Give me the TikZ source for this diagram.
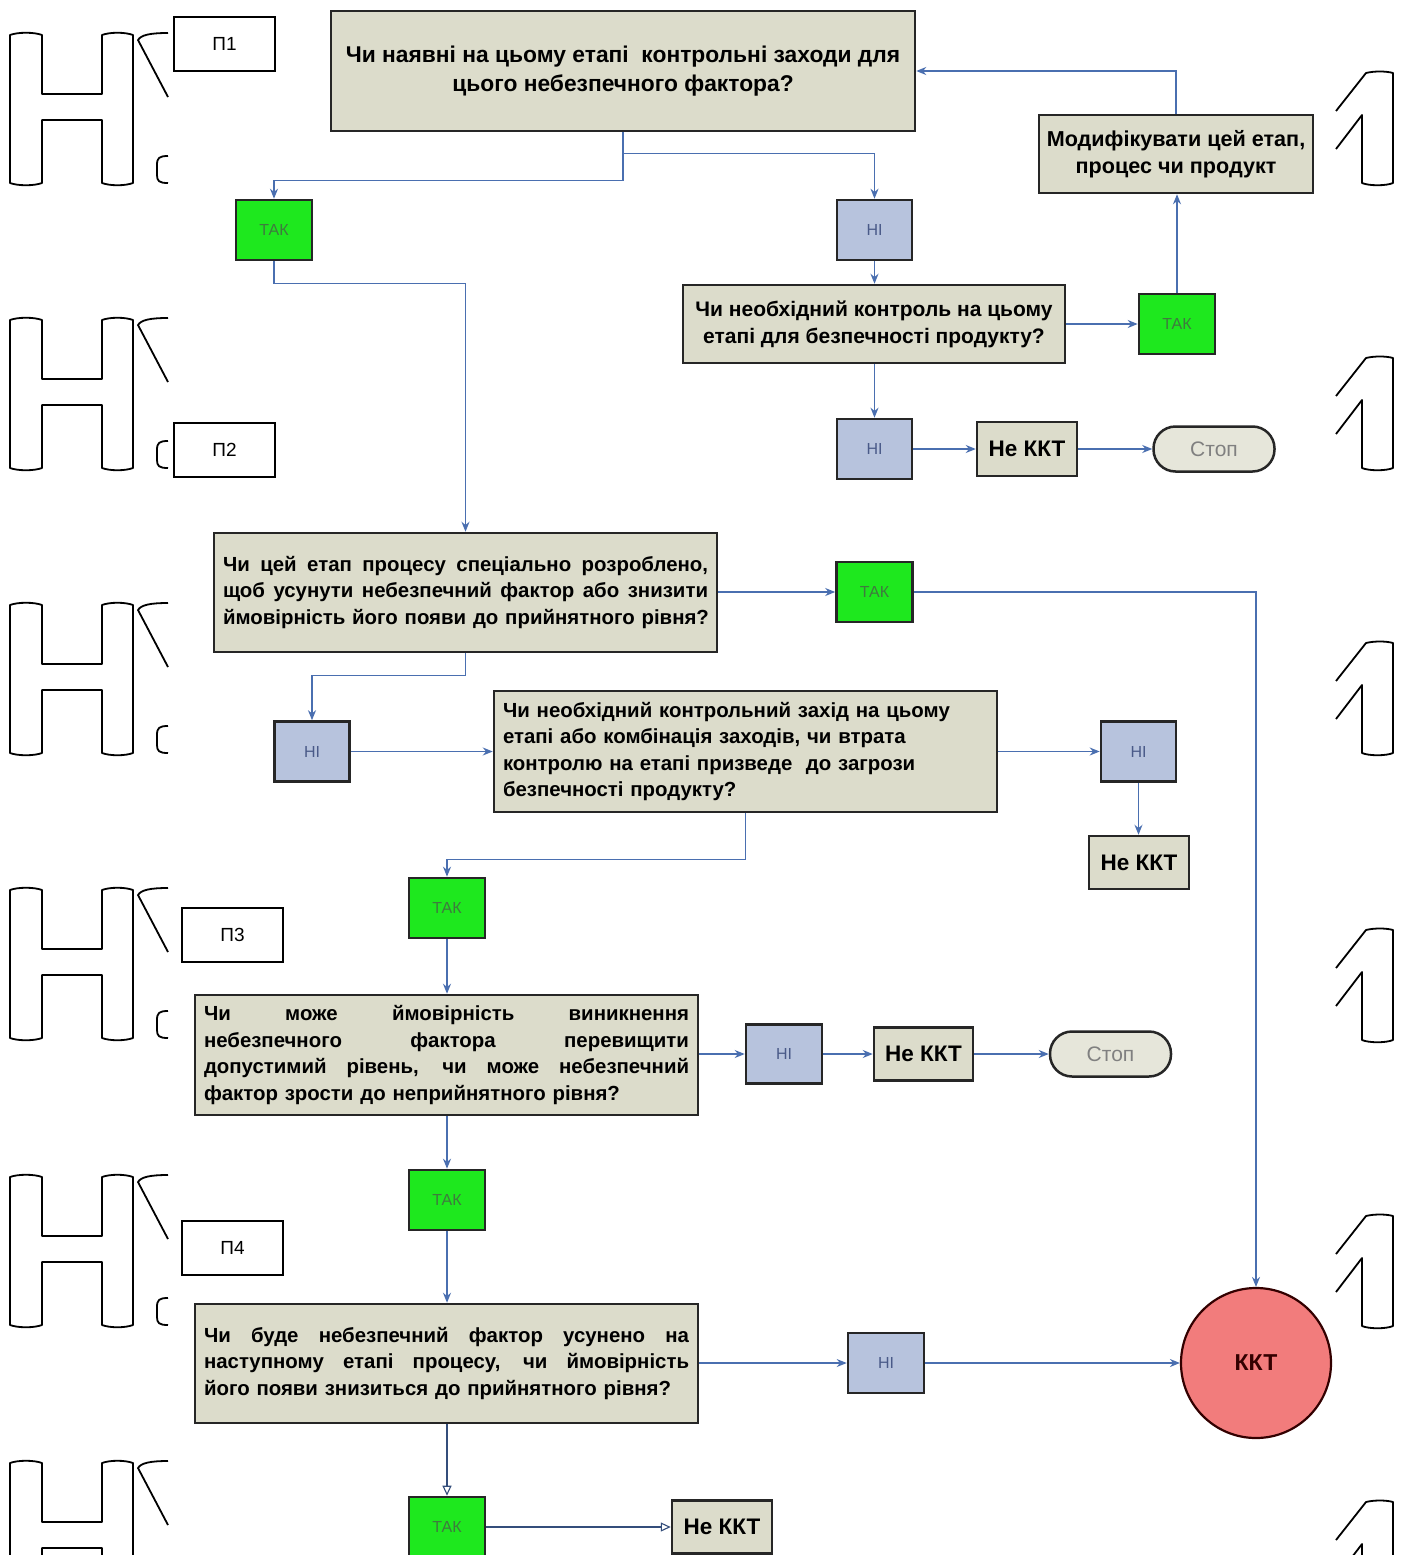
\documentclass[tikz,border=0pt]{standalone}
\usepackage{fontspec}
\setmainfont{Liberation Sans}
\usetikzlibrary{arrows.meta,calc}
\definecolor{boxfill}{HTML}{DCDCCB}
\definecolor{takfill}{HTML}{1EE81E}
\definecolor{taktext}{HTML}{3F7A3F}
\definecolor{nifill}{HTML}{B7C3DD}
\definecolor{nitext}{HTML}{4A5A88}
\definecolor{linkblue}{HTML}{4A6FB0}
\definecolor{kktfill}{HTML}{F27C7C}
\definecolor{stopfill}{HTML}{E6E6DA}
\definecolor{boxline}{HTML}{262626}

% a full-width line whose interword spaces stretch to the given width
\newcommand\justline[2][485pt]{\leavevmode\hbox to #1{\spaceskip=0.28em plus 1fil\relax #2}}

\tikzset{
  glyph/.style={draw=black, line width=1.8pt, line join=round},
  % outlined letter shape on the left margin
  hglyph/.pic={
    \draw[glyph] (0,0) -- (0,148) .. controls (8,151) and (24,151) .. (32,148)
      -- (32,85) -- (92,85) -- (92,148) .. controls (100,151) and (115,151) .. (123,148)
      -- (123,0) .. controls (115,-3) and (100,-3) .. (92,0) -- (92,59) -- (32,59)
      -- (32,0) .. controls (24,-3) and (8,-3) .. (0,0) -- cycle;
    \draw[glyph] (158,-2) .. controls (140,-2) and (131,0) .. (128,5) -- (158,62);
    \draw[glyph] (158,121) .. controls (149,121) and (147,123) .. (147,130)
      -- (147,140) .. controls (147,146) and (149,148) .. (158,148);
  },
  % outlined digit shape on the right margin
  oneglyph/.pic={
    \draw[glyph] (0,38) -- (30,0) .. controls (38,-2) and (50,-2) .. (57,0)
      -- (57,110) .. controls (50,113) and (33,113) .. (26,110) -- (26,42) -- (0,76);
  }
}

\begin{document}
\begin{tikzpicture}[x=1pt,y=-1pt,
  every node/.style={inner sep=0pt},
  qbox/.style={draw=boxline, line width=2.5pt, fill=boxfill,
    font=\fontsize{20.4}{26.5}\selectfont\bfseries},
  qwide/.style={qbox, minimum width=503pt, text width=485pt, align=left},
  takbox/.style={draw=boxline, line width=2.6pt, fill=takfill, text=taktext,
    minimum width=76pt, minimum height=60pt, font=\fontsize{16}{18}\selectfont},
  nibox/.style={draw=boxline, line width=2.6pt, fill=nifill, text=nitext,
    minimum width=75pt, minimum height=60pt, font=\fontsize{16}{18}\selectfont},
  nekkt/.style={draw=boxline, line width=2.5pt, fill=boxfill,
    minimum width=100pt, minimum height=54pt, font=\fontsize{22.5}{25}\selectfont\bfseries},
  stopbox/.style={draw=boxline, line width=2.5pt, fill=stopfill, text=black!50,
    rounded corners=22pt, minimum width=121pt, minimum height=45pt,
    font=\fontsize{21}{23}\selectfont},
  plabel/.style={draw=black, line width=2pt, fill=white, minimum width=101pt,
    minimum height=54pt, font=\fontsize{19}{22}\selectfont},
  conn/.style={draw=linkblue, line width=1.3pt,
    -{Stealth[length=10pt,width=8pt]}},
  openconn/.style={draw=linkblue!70!black, line width=1.1pt,
    -{Triangle[open,length=10pt,width=9pt]}}
]
\useasboundingbox (0,0) rectangle (1406,1555);
\clip (0,0) rectangle (1406,1555);
\fill[white] (0,0) rectangle (1406,1555);

% margin shapes
\foreach \t in {35,320,605,890,1177,1463} { \pic at (10,\t) {hglyph}; }
\foreach \t in {73,358,643,930,1216,1502} { \pic at (1336,\t) {oneglyph}; }

% section labels
\node[plabel] (p1) at (224.5,44) {П1};
\node[plabel] (p2) at (224.5,449.5) {П2};
\node[plabel] (p3) at (232.5,935) {П3};
\node[plabel] (p4) at (232.5,1247.5) {П4};

% question boxes
\node[qbox, minimum width=584pt, minimum height=120pt, align=center,
  font=\fontsize{22.8}{29}\selectfont\bfseries] (q1) at (623,71)
  {Чи наявні на цьому етапі~ контрольні заходи для\\цього небезпечного фактора?};
\node[qbox, minimum width=274pt, minimum height=78pt, align=center,
  font=\fontsize{21.6}{27}\selectfont\bfseries] (mod) at (1176,154)
  {Модифікувати цей етап,\\процес чи продукт};
\node[qbox, minimum width=382pt, minimum height=78pt, align=center,
  font=\fontsize{21}{27}\selectfont\bfseries] (q2) at (874,324)
  {Чи необхідний контроль на цьому\\етапі для безпечності продукту?};
\node[qwide, minimum height=119pt] (q3) at (465.5,592.5)
  {\justline{Чи цей етап процесу спеціально розроблено,}\\
   \justline{щоб усунути небезпечний фактор або знизити}\\
   \mbox{ймовірність його появи до прийнятного рівня?}};
\node[qwide, minimum height=121pt] (q4) at (745.5,751.5)
  {Чи необхідний контрольний захід на цьому\\
   етапі або комбінація заходів, чи втрата\\
   контролю на етапі призведе~ до загрози\\
   безпечності продукту?};
\node[qwide, minimum height=120pt] (q5) at (446.5,1055)
  {\justline{Чи може ймовірність виникнення}\\
   \justline{небезпечного фактора перевищити}\\
   \justline{допустимий рівень, чи може небезпечний}\\
   \mbox{фактор зрости до неприйнятного рівня?}};
\node[qwide, minimum height=119pt] (q6) at (446.5,1363.5)
  {\justline{Чи буде небезпечний фактор усунено на}\\
   \justline{наступному етапі процесу, чи ймовірність}\\
   \mbox{його появи знизиться до прийнятного рівня?}};

% answer boxes
\node[takbox] (tak1) at (274,230) {ТАК};
\node[nibox] (ni1) at (874.5,230) {НІ};
\node[takbox] (tak2) at (1177,324) {ТАК};
\node[nibox] (ni2) at (874.5,449) {НІ};
\node[nekkt] (nekkt1) at (1027,449) {Не ККТ};
\node[stopbox] (stop1) at (1214,449) {Стоп};
\node[takbox] (tak3) at (874.5,592) {ТАК};
\node[nibox] (ni3) at (312,751.5) {НІ};
\node[nibox] (ni4) at (1138.5,751.5) {НІ};
\node[nekkt, minimum height=53pt] (nekkt2) at (1139,862.5) {Не ККТ};
\node[takbox] (tak4) at (447,908) {ТАК};
\node[nibox, minimum width=76pt, minimum height=59pt] (ni5) at (784,1054) {НІ};
\node[nekkt, minimum width=99pt, minimum height=53pt] (nekkt3) at (923.5,1054) {Не ККТ};
\node[stopbox] (stop2) at (1110.5,1054) {Стоп};
\node[takbox] (tak5) at (447,1200) {ТАК};
\node[nibox, minimum width=76pt] (ni6) at (886,1363) {НІ};
\node[circle, draw=black!80!red, line width=2.2pt, fill=kktfill, minimum size=150pt,
  font=\fontsize{23}{25}\selectfont\bfseries, text=black!80!red] (kkt) at (1256,1363) {ККТ};
\node[takbox] (tak6) at (447,1527) {ТАК};
\node[nekkt, minimum height=53pt] (nekkt4) at (722,1527) {Не ККТ};

% connectors
\draw[conn] (q1.south) -- ++(0,48) -| (tak1.north);
\draw[conn] ($(q1.south)+(0,21)$) -| (ni1.north);
\draw[conn] (tak1.south) -- ++(0,22) -| (q3.north);
\draw[conn] (ni1.south) -- (ni1.south |- q2.north);
\draw[conn] (q2.east) -- (tak2.west);
\draw[conn] (tak2.north) -- (tak2.north |- mod.south);
\draw[conn] (mod.north) |- (q1.east);
\draw[conn] (q2.south -| ni2.north) -- (ni2.north);
\draw[conn] (ni2.east) -- (nekkt1.west);
\draw[conn] (nekkt1.east) -- (stop1.west);
\draw[conn] (q3.east |- tak3.west) -- (tak3.west);
\draw[conn] (tak3.east) -| (kkt.north);
\draw[conn] (q3.south) -- ++(0,22) -| (ni3.north);
\draw[conn] (ni3.east) -- (ni3.east -| q4.west);
\draw[conn] (q4.east |- ni4.west) -- (ni4.west);
\draw[conn] (ni4.south) -- (ni4.south |- nekkt2.north);
\draw[conn] (q4.south) -- ++(0,46) -| (tak4.north);
\draw[conn] (tak4.south) -- (tak4.south |- q5.north);
\draw[conn] (q5.east |- ni5.west) -- (ni5.west);
\draw[conn] (ni5.east) -- (nekkt3.west);
\draw[conn] (nekkt3.east) -- (stop2.west);
\draw[conn] (q5.south -| tak5.north) -- (tak5.north);
\draw[conn] (tak5.south) -- (tak5.south |- q6.north);
\draw[conn] (q6.east |- ni6.west) -- (ni6.west);
\draw[conn] (ni6.east) -- (ni6.east -| kkt.west);
\draw[openconn] (q6.south -| tak6.north) -- (tak6.north);
\draw[openconn] (tak6.east) -- (nekkt4.west);
\end{tikzpicture}
\end{document}
